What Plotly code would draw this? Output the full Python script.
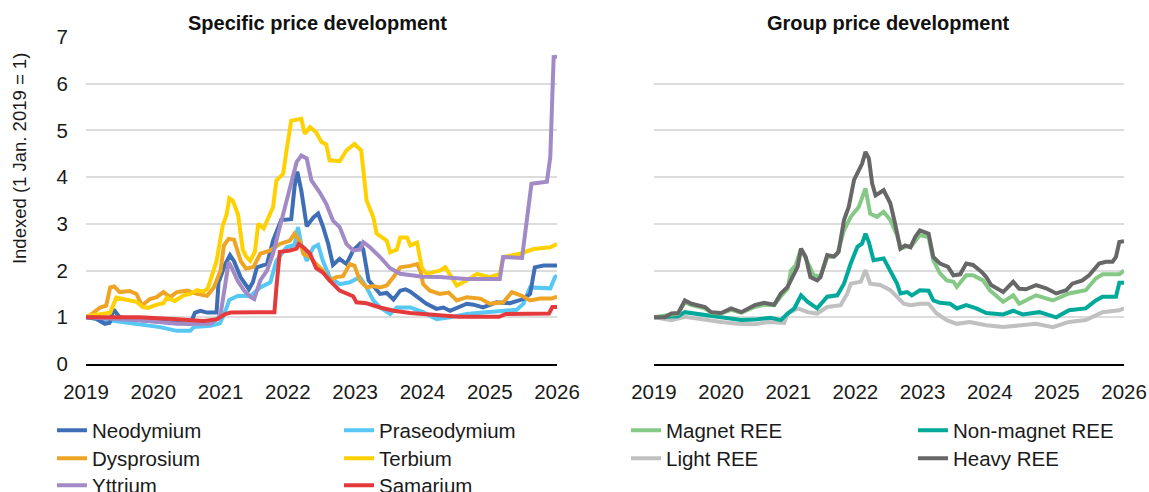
import plotly.graph_objects as go

# Left panel: specific elements (x = decimal year, y = index, 1 Jan 2019 = 1)
nd_x = [2019.0, 2019.15, 2019.28, 2019.35, 2019.41, 2019.5, 2019.85, 2020.25, 2020.55, 2020.62, 2020.7, 2020.8,
        2020.94, 2020.97, 2021.07, 2021.14, 2021.2, 2021.3, 2021.42, 2021.48, 2021.54, 2021.69, 2021.78, 2021.9,
        2022.05, 2022.1, 2022.14, 2022.2, 2022.28, 2022.38, 2022.45, 2022.52, 2022.6, 2022.67, 2022.77, 2022.87,
        2022.97, 2023.07, 2023.12, 2023.2, 2023.27, 2023.37, 2023.47, 2023.57, 2023.67, 2023.75, 2023.82, 2023.97,
        2024.06, 2024.21, 2024.31, 2024.41, 2024.66, 2024.76, 2024.9, 2025.1, 2025.3, 2025.5, 2025.6, 2025.67,
        2025.8, 2026.0]
nd_y = [1.0, 0.97, 0.86, 0.88, 1.17, 1.0, 0.93, 0.9, 0.86, 1.1, 1.14, 1.1,
        1.1, 1.75, 2.14, 2.33, 2.2, 1.85, 1.6, 1.75, 2.07, 2.14, 2.64, 3.08,
        3.1, 3.8, 4.12, 3.71, 2.95, 3.14, 3.22, 2.95, 2.57, 2.12, 2.25, 2.14,
        2.43, 2.57, 2.45, 1.79, 1.68, 1.5, 1.52, 1.38, 1.57, 1.6, 1.55, 1.39,
        1.29, 1.18, 1.21, 1.14, 1.29, 1.27, 1.21, 1.32, 1.3, 1.39, 1.5, 2.07,
        2.11, 2.11]

pr_x = [2019.0, 2019.36, 2019.6, 2020.1, 2020.35, 2020.55, 2020.6, 2020.85, 2020.99, 2021.06, 2021.13, 2021.26,
        2021.44, 2021.59, 2021.74, 2021.83, 2021.98, 2022.1, 2022.15, 2022.2, 2022.28, 2022.38, 2022.45, 2022.52,
        2022.62, 2022.77, 2022.92, 2023.07, 2023.17, 2023.27, 2023.37, 2023.52, 2023.62, 2023.82, 2024.01, 2024.21,
        2024.41, 2024.66, 2024.9, 2025.15, 2025.4, 2025.5, 2025.6, 2025.9, 2025.97, 2026.0]
pr_y = [1.0, 0.93, 0.89, 0.79, 0.71, 0.71, 0.79, 0.82, 0.87, 1.09, 1.37, 1.46,
        1.45, 1.64, 1.75, 2.21, 2.5, 2.55, 2.93, 2.55, 2.21, 2.5, 2.55, 2.21,
        1.86, 1.71, 1.75, 1.86, 1.64, 1.36, 1.21, 1.07, 1.21, 1.21, 1.11, 0.96,
        1.0, 1.07, 1.1, 1.14, 1.16, 1.29, 1.64, 1.62, 1.86, 1.89]

dy_x = [2019.0, 2019.06, 2019.21, 2019.3, 2019.36, 2019.42, 2019.5, 2019.65, 2019.75, 2019.83, 2019.95, 2020.05,
        2020.15, 2020.25, 2020.35, 2020.5, 2020.65, 2020.8, 2020.9, 2021.0, 2021.05, 2021.12, 2021.2, 2021.3,
        2021.38, 2021.49, 2021.59, 2021.74, 2021.88, 2022.03, 2022.1, 2022.18, 2022.23, 2022.33, 2022.42, 2022.52,
        2022.62, 2022.72, 2022.82, 2022.92, 2022.99, 2023.07, 2023.17, 2023.27, 2023.37, 2023.47, 2023.57, 2023.67,
        2023.82, 2023.92, 2023.97, 2024.01, 2024.11, 2024.26, 2024.39, 2024.51, 2024.66, 2024.86, 2025.0, 2025.2,
        2025.33, 2025.48, 2025.6, 2025.75, 2025.92, 2026.0]
dy_y = [1.0, 1.04, 1.21, 1.25, 1.64, 1.66, 1.54, 1.56, 1.5, 1.25, 1.39, 1.43,
        1.54, 1.43, 1.54, 1.57, 1.5, 1.46, 1.64, 2.0, 2.54, 2.68, 2.66, 2.2,
        2.04, 2.08, 2.36, 2.43, 2.57, 2.64, 2.79, 2.62, 2.36, 2.29, 2.14, 2.0,
        1.79, 1.86, 1.88, 2.14, 2.1, 1.79, 1.64, 1.67, 1.64, 1.68, 1.86, 2.07,
        2.1, 2.14, 2.0, 1.71, 1.57, 1.5, 1.53, 1.36, 1.43, 1.4, 1.29, 1.32,
        1.54, 1.46, 1.36, 1.4, 1.4, 1.44]

tb_x = [2019.0, 2019.3, 2019.36, 2019.45, 2019.6, 2019.75, 2019.85, 2019.92, 2020.05, 2020.15, 2020.2, 2020.32,
        2020.45, 2020.55, 2020.65, 2020.75, 2020.81, 2020.88, 2020.94, 2021.03, 2021.09, 2021.13, 2021.18, 2021.26,
        2021.33, 2021.38, 2021.44, 2021.51, 2021.56, 2021.64, 2021.71, 2021.78, 2021.83, 2021.93, 2021.98, 2022.05,
        2022.2, 2022.25, 2022.33, 2022.42, 2022.5, 2022.57, 2022.62, 2022.77, 2022.87, 2022.99, 2023.09, 2023.17,
        2023.27, 2023.32, 2023.47, 2023.52, 2023.62, 2023.67, 2023.77, 2023.82, 2023.92, 2023.99, 2024.06, 2024.26,
        2024.34, 2024.4, 2024.51, 2024.66, 2024.81, 2025.0, 2025.15, 2025.2, 2025.45, 2025.65, 2025.9, 2026.0]
tb_y = [1.02, 1.08, 1.1, 1.42, 1.37, 1.33, 1.22, 1.2, 1.27, 1.3, 1.42, 1.35,
        1.47, 1.5, 1.58, 1.55, 1.62, 1.9, 2.2, 2.95, 3.2, 3.55, 3.5, 3.2,
        2.45, 2.3, 2.21, 2.4, 3.0, 2.9, 3.14, 3.36, 3.93, 4.07, 4.57, 5.21,
        5.25, 4.93, 5.07, 4.96, 4.75, 4.7, 4.36, 4.34, 4.57, 4.71, 4.57, 3.5,
        3.14, 2.79, 2.64, 2.39, 2.45, 2.71, 2.71, 2.54, 2.6, 2.07, 1.93, 2.0,
        2.07, 1.93, 1.68, 1.79, 1.93, 1.86, 1.93, 2.29, 2.36, 2.46, 2.5, 2.57]

yt_x = [2019.0, 2019.45, 2019.85, 2020.35, 2020.85, 2020.95, 2021.0, 2021.07, 2021.12, 2021.17, 2021.25, 2021.35,
        2021.45, 2021.5, 2021.59, 2021.69, 2021.78, 2021.88, 2021.98, 2022.05, 2022.13, 2022.2, 2022.28, 2022.35,
        2022.47, 2022.57, 2022.67, 2022.77, 2022.87, 2022.97, 2023.07, 2023.12, 2023.22, 2023.37, 2023.52, 2023.67,
        2024.0, 2024.26, 2024.66, 2025.15, 2025.2, 2025.48, 2025.55, 2025.62, 2025.85, 2025.9, 2025.95, 2026.0]
yt_y = [1.0, 0.96, 0.93, 0.86, 0.86, 0.96, 1.07, 1.71, 2.18, 2.05, 1.79, 1.57,
        1.43, 1.39, 1.79, 2.0, 2.36, 2.93, 3.5, 3.93, 4.32, 4.46, 4.4, 3.93,
        3.68, 3.43, 3.07, 2.93, 2.57, 2.43, 2.45, 2.61, 2.5, 2.29, 2.05, 1.93,
        1.87, 1.86, 1.82, 1.82, 2.29, 2.27, 3.07, 3.86, 3.9, 4.43, 6.57, 6.58]

sm_x = [2019.0, 2019.8, 2020.35, 2020.75, 2020.95, 2021.07, 2021.15, 2021.8, 2021.83, 2021.88, 2022.03, 2022.13,
        2022.16, 2022.23, 2022.33, 2022.42, 2022.52, 2022.62, 2022.77, 2022.97, 2023.02, 2023.17, 2023.37, 2023.57,
        2023.82, 2024.54, 2025.14, 2025.24, 2025.88, 2025.93, 2026.0]
sm_y = [1.0, 1.0, 0.96, 0.92, 0.96, 1.07, 1.1, 1.11, 1.64, 2.4, 2.43, 2.47,
        2.57, 2.5, 2.36, 2.05, 1.96, 1.79, 1.57, 1.45, 1.32, 1.3, 1.21, 1.14,
        1.09, 1.01, 1.01, 1.07, 1.08, 1.22, 1.22]

# Right panel: groups
mag_x = [2019.0, 2019.26, 2019.36, 2019.46, 2019.56, 2019.76, 2019.85, 2020.0, 2020.15, 2020.3, 2020.5, 2020.64,
         2020.79, 2020.89, 2020.99, 2021.04, 2021.11, 2021.19, 2021.29, 2021.38, 2021.48, 2021.58, 2021.68, 2021.73,
         2021.83, 2021.93, 2022.05, 2022.15, 2022.22, 2022.32, 2022.42, 2022.52, 2022.62, 2022.67, 2022.77, 2022.82,
         2022.96, 2023.09, 2023.16, 2023.26, 2023.36, 2023.46, 2023.51, 2023.65, 2023.75, 2023.9, 2024.0, 2024.2,
         2024.35, 2024.44, 2024.69, 2024.94, 2025.18, 2025.43, 2025.58, 2025.68, 2025.93, 2026.0]
mag_y = [1.0, 1.06, 1.08, 1.32, 1.26, 1.19, 1.1, 1.08, 1.16, 1.1, 1.22, 1.27,
         1.26, 1.45, 1.61, 2.0, 2.11, 2.47, 2.15, 1.9, 1.88, 2.29, 2.3, 2.36,
         2.86, 3.15, 3.36, 3.76, 3.22, 3.15, 3.26, 3.08, 2.76, 2.47, 2.52, 2.5,
         2.76, 2.72, 2.22, 1.94, 1.79, 1.76, 1.65, 1.9, 1.9, 1.79, 1.58, 1.33,
         1.47, 1.29, 1.47, 1.36, 1.51, 1.58, 1.83, 1.92, 1.92, 2.0]

nonmag_x = [2019.0, 2019.36, 2019.46, 2019.76, 2020.0, 2020.3, 2020.5, 2020.74, 2020.89, 2020.99, 2021.09, 2021.19,
            2021.29, 2021.43, 2021.58, 2021.73, 2021.83, 2021.93, 2022.03, 2022.1, 2022.15, 2022.2, 2022.27, 2022.42,
            2022.52, 2022.62, 2022.67, 2022.77, 2022.84, 2022.96, 2023.09, 2023.16, 2023.26, 2023.41, 2023.51, 2023.65,
            2023.8, 2023.95, 2024.2, 2024.35, 2024.49, 2024.74, 2024.99, 2025.18, 2025.43, 2025.58, 2025.68, 2025.88,
            2025.93, 2026.0]
nonmag_y = [1.0, 1.02, 1.11, 1.04, 1.0, 0.94, 0.95, 0.99, 0.94, 1.08, 1.19, 1.47,
            1.33, 1.19, 1.44, 1.47, 1.72, 2.15, 2.51, 2.58, 2.79, 2.61, 2.22, 2.26,
            2.01, 1.72, 1.51, 1.54, 1.47, 1.58, 1.57, 1.36, 1.31, 1.29, 1.19, 1.26,
            1.19, 1.09, 1.06, 1.14, 1.06, 1.11, 1.0, 1.15, 1.19, 1.36, 1.44, 1.44,
            1.74, 1.74]

light_x = [2019.0, 2019.26, 2019.46, 2019.76, 2020.0, 2020.25, 2020.5, 2020.7, 2020.94, 2020.99, 2021.14, 2021.29,
           2021.43, 2021.58, 2021.78, 2021.88, 2021.93, 2022.08, 2022.15, 2022.22, 2022.37, 2022.52, 2022.62, 2022.72,
           2022.82, 2022.96, 2023.09, 2023.21, 2023.36, 2023.51, 2023.7, 2023.95, 2024.2, 2024.44, 2024.69, 2024.94,
           2025.18, 2025.43, 2025.58, 2025.68, 2025.93, 2026.0]
light_y = [1.0, 0.94, 1.01, 0.94, 0.9, 0.86, 0.85, 0.9, 0.88, 1.08, 1.19, 1.11,
           1.08, 1.22, 1.26, 1.51, 1.72, 1.76, 2.01, 1.72, 1.69, 1.58, 1.44, 1.29,
           1.26, 1.29, 1.29, 1.08, 0.94, 0.86, 0.9, 0.83, 0.79, 0.83, 0.86, 0.79,
           0.9, 0.94, 1.04, 1.11, 1.15, 1.19]

heavy_x = [2019.0, 2019.16, 2019.26, 2019.36, 2019.46, 2019.56, 2019.76, 2019.85, 2020.0, 2020.15, 2020.3, 2020.5,
           2020.64, 2020.79, 2020.89, 2020.99, 2021.09, 2021.14, 2021.19, 2021.26, 2021.33, 2021.43, 2021.48, 2021.58,
           2021.68, 2021.75, 2021.83, 2021.9, 2021.98, 2022.05, 2022.1, 2022.15, 2022.2, 2022.25, 2022.3, 2022.42,
           2022.52, 2022.59, 2022.67, 2022.74, 2022.82, 2022.89, 2022.96, 2023.09, 2023.16, 2023.26, 2023.38, 2023.46,
           2023.56, 2023.65, 2023.75, 2023.88, 2023.95, 2024.02, 2024.2, 2024.35, 2024.44, 2024.54, 2024.69, 2024.84,
           2024.99, 2025.14, 2025.23, 2025.38, 2025.48, 2025.63, 2025.73, 2025.83, 2025.88, 2025.93, 2026.0]
heavy_y = [1.0, 1.0, 1.08, 1.09, 1.36, 1.29, 1.22, 1.11, 1.09, 1.19, 1.11, 1.26,
           1.31, 1.27, 1.51, 1.65, 1.94, 2.08, 2.47, 2.29, 1.86, 1.79, 1.86, 2.33,
           2.3, 2.4, 3.08, 3.36, 3.94, 4.15, 4.29, 4.54, 4.4, 3.86, 3.61, 3.72,
           3.44, 3.01, 2.47, 2.54, 2.5, 2.72, 2.86, 2.79, 2.29, 2.15, 2.08, 1.9,
           1.92, 2.15, 2.12, 1.97, 1.86, 1.69, 1.54, 1.76, 1.61, 1.6, 1.69, 1.62,
           1.51, 1.58, 1.72, 1.79, 1.9, 2.15, 2.19, 2.19, 2.29, 2.61, 2.63]

YEARS = [2019, 2020, 2021, 2022, 2023, 2024, 2025, 2026]
FONT = "Arial, Liberation Sans, sans-serif"

# (name, x, y, colour, x axis, y axis, legend row)
series = [
    ("Neodymium", nd_x, nd_y, "#3E6EB5", "x", "y", "legend"),
    ("Praseodymium", pr_x, pr_y, "#57C8F3", "x", "y", "legend"),
    ("Magnet REE", mag_x, mag_y, "#86C986", "x2", "y2", "legend"),
    ("Non-magnet REE", nonmag_x, nonmag_y, "#00A99A", "x2", "y2", "legend"),
    ("Dysprosium", dy_x, dy_y, "#EEA424", "x", "y", "legend2"),
    ("Terbium", tb_x, tb_y, "#FFD100", "x", "y", "legend2"),
    ("Light REE", light_x, light_y, "#C0C0C0", "x2", "y2", "legend2"),
    ("Heavy REE", heavy_x, heavy_y, "#676767", "x2", "y2", "legend2"),
    ("Yttrium", yt_x, yt_y, "#A28AC6", "x", "y", "legend3"),
    ("Samarium", sm_x, sm_y, "#E53A3C", "x", "y", "legend3"),
]
names = [s[0] for s in series]

# draw order: Samarium / Heavy REE end up on top like the reference
draw_rank = {"Praseodymium": 0, "Neodymium": 1, "Dysprosium": 2, "Terbium": 3, "Yttrium": 4, "Samarium": 5,
             "Light REE": 0, "Non-magnet REE": 1, "Magnet REE": 2, "Heavy REE": 3}

fig = go.Figure()
for name, xs, ys, color, xa, ya, leg in sorted(series, key=lambda s: (s[4], draw_rank[s[0]])):
    fig.add_trace(
        go.Scatter(
            x=xs,
            y=ys,
            name=name,
            mode="lines",
            line=dict(color=color, width=4),
            xaxis=xa,
            yaxis=ya,
            legend=leg,
            legendrank=names.index(name) + 1,
        )
    )

axis_common = dict(
    range=[2019, 2026],
    tickvals=YEARS,
    ticktext=[str(v) for v in YEARS],
    showgrid=False,
    showline=True,
    linecolor="black",
    linewidth=2,
    ticks="outside",
    ticklen=8,
    tickcolor="rgba(0,0,0,0)",
    tickfont=dict(size=20.5, color="#1a1a1a", family=FONT),
    zeroline=False,
    ticklabeloverflow="allow",
)
yaxis_common = dict(
    range=[0, 7],
    tickvals=list(range(8)),
    showgrid=True,
    gridcolor="#DCDCDC",
    gridwidth=1.5,
    zeroline=False,
    showline=False,
    ticks="outside",
    ticklen=13,
    tickcolor="rgba(0,0,0,0)",
)

# one horizontal legend per row so the row spacing matches the reference
legend_common = dict(
    orientation="h",
    x=-0.032,
    xanchor="left",
    yanchor="top",
    entrywidth=242,
    font=dict(size=20.5, family=FONT, color="#1a1a1a"),
    traceorder="normal",
    itemwidth=30,
    bgcolor="rgba(0,0,0,0)",
)

fig.update_layout(
    width=1149,
    height=492,
    margin=dict(l=86, r=0, t=37, b=128, autoexpand=False),
    paper_bgcolor="white",
    plot_bgcolor="white",
    font=dict(family=FONT, size=20, color="#1a1a1a"),
    xaxis=dict(domain=[0, 0.4431], anchor="y", **axis_common),
    yaxis=dict(anchor="x", tickfont=dict(size=20.5, color="#1a1a1a", family=FONT), **yaxis_common),
    xaxis2=dict(domain=[0.5343, 0.9765], anchor="y2", **axis_common),
    yaxis2=dict(anchor="x2", showticklabels=False, **yaxis_common),
    legend=dict(y=-0.142, **legend_common),
    legend2=dict(y=-0.2276, **legend_common),
    legend3=dict(y=-0.3102, **legend_common),
    showlegend=True,
    annotations=[
        dict(text="<b>Specific price development</b>", x=0.2178, y=1.043, xref="paper", yref="paper",
             xanchor="center", yanchor="middle", showarrow=False, font=dict(size=20, color="#111")),
        dict(text="<b>Group price development</b>", x=0.7554, y=1.043, xref="paper", yref="paper",
             xanchor="center", yanchor="middle", showarrow=False, font=dict(size=20, color="#111")),
        dict(text="Indexed (1 Jan. 2019 = 1)", x=-0.062, y=0.627, xref="paper", yref="paper",
             xanchor="center", yanchor="middle", textangle=-90, showarrow=False,
             font=dict(size=18.5, color="#1a1a1a")),
    ],
)

# the page body adds an 8px margin by default; remove it so the figure fills the window
fig.write_html(
    "out.html",
    config={"displayModeBar": False},
    post_script="document.body.style.margin='0px';",
)
